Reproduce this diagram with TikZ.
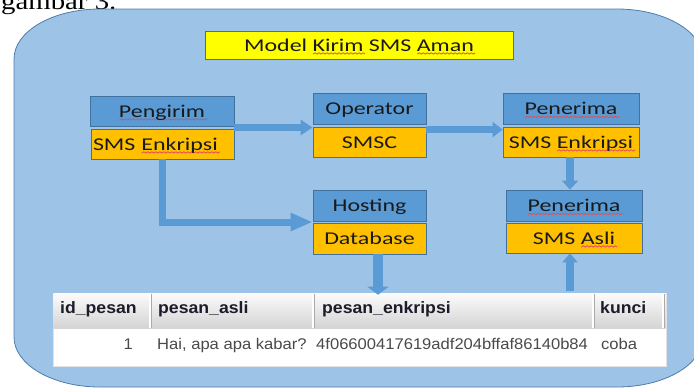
\documentclass[tikz,border=0pt]{standalone}
\usepackage{fontspec}
\usetikzlibrary{arrows.meta,calc}

\newfontfamily\boxfont[FakeStretch=1.33]{Carlito}
\newfontfamily\tabfont[FakeStretch=1.07]{Liberation Sans}
\newfontfamily\capfont[FakeStretch=1.2]{Liberation Serif}

\definecolor{bgfill}{HTML}{9DC3E6}
\definecolor{bgedge}{HTML}{4F7CAC}
\definecolor{boxblue}{HTML}{5B9BD5}
\definecolor{boxyellow}{HTML}{FFC000}
\definecolor{boxedge}{HTML}{41719C}
\definecolor{titleyellow}{HTML}{FFFF00}
\definecolor{flowblue}{HTML}{5B9BD5}
\definecolor{tabedge}{HTML}{E2E2E2}
\definecolor{hdtop}{HTML}{FBFBFB}
\definecolor{hdbot}{HTML}{D4D4D4}
\definecolor{hdtext}{HTML}{1C1C2A}
\definecolor{celltext}{HTML}{4A4A4A}
\definecolor{txt}{HTML}{1A1A1A}
\definecolor{squig}{HTML}{E2504A}

% red wavy underline for flagged words
\newdimen\wavex \newdimen\wavew \newcount\wavek
\newcommand\wavemark[1]{%
  \wavew=#1\relax\wavex=0pt\wavek=0
  \begin{pgfpicture}%
    \pgfsetlinewidth{0.8pt}\pgfsetstrokecolor{squig}%
    \pgfpathmoveto{\pgfpoint{0pt}{0pt}}%
    \loop\ifdim\wavex<\wavew
      \advance\wavex by 2pt \advance\wavek by 1
      \ifodd\wavek\pgfpathlineto{\pgfpoint{\wavex}{1.3pt}}\else\pgfpathlineto{\pgfpoint{\wavex}{0pt}}\fi
    \repeat
    \pgfusepath{stroke}%
  \end{pgfpicture}}
\newcommand\spellmark[1]{%
  \setbox0=\hbox{#1}%
  \rlap{\raisebox{-3.5pt}[0pt][0pt]{\wavemark{\wd0}}}\box0\relax}

\tikzset{
  upperbox/.style={draw=boxedge, fill=boxblue, line width=0.8pt, inner sep=0pt,
    minimum height=30pt, text height=12pt, text depth=0pt,
    font=\boxfont\fontsize{18}{20}\selectfont, text=txt},
  lowerbox/.style={upperbox, fill=boxyellow},
  flow/.style={draw=flowblue, line width=7pt, -{Triangle[length=12pt,width=15pt]}},
  hdcell/.style={anchor=base west, inner sep=0pt, text=hdtext,
    font=\tabfont\bfseries\fontsize{16.5}{18}\selectfont},
  datacell/.style={anchor=base west, inner sep=0pt, text=celltext,
    font=\tabfont\fontsize{15.5}{18}\selectfont},
}

\begin{document}
\begin{tikzpicture}[x=1pt,y=-1pt]
\clip (0,0) rectangle (694,389);

% caption line above the figure
\node[anchor=base west, inner sep=0pt, font=\capfont\fontsize{24}{26}\selectfont] (cap) at (1,9) {gambar 3.};

% rounded background panel
\draw[fill=bgfill, draw=bgedge, line width=0.8pt]
  (100,9) -- (617,9) arc[start angle=-90, end angle=0, x radius=86, y radius=50]
  -- (703,337) arc[start angle=0, end angle=90, x radius=86, y radius=50]
  -- (100,387) arc[start angle=90, end angle=180, x radius=86, y radius=50]
  -- (14,59) arc[start angle=180, end angle=270, x radius=86, y radius=50] -- cycle;

% title
\node[upperbox, fill=titleyellow, minimum width=308pt, minimum height=28pt] (title) at (359,45)
  {Model \spellmark{Kirim} SMS \spellmark{Aman}};

% sender
\node[upperbox, minimum width=144pt] (peng) at (162,111) {\spellmark{Pengirim}};
\node[lowerbox, text width=139pt, align=left, inner xsep=2pt] (pengsms) at (162.5,144)
  {SMS \spellmark{Enkripsi}};

% operator
\node[upperbox, minimum width=113pt, minimum height=31pt] (op) at (369.5,108.5) {Operator};
\node[lowerbox, minimum width=113pt] (smsc) at (369.5,142) {SMSC};

% hosting
\node[upperbox, minimum width=113pt, minimum height=31pt] (host) at (369.5,205.5) {Hosting};
\node[lowerbox, minimum width=113pt, minimum height=31pt] (db) at (369.5,238.5) {Database};

% receiver, encrypted
\node[upperbox, minimum width=136pt, minimum height=31pt] (pen1) at (571,108.5) {\spellmark{Penerima}};
\node[lowerbox, minimum width=136pt] (pensms) at (571,142) {SMS \spellmark{Enkripsi}};

% receiver, plain
\node[upperbox, minimum width=136pt, minimum height=31pt] (pen2) at (574,205.5) {\spellmark{Penerima}};
\node[lowerbox, minimum width=136pt] (asli) at (574,238) {SMS \spellmark{Asli}};

% database table
\node[draw=tabedge, fill=white, line width=0.6pt, minimum width=613pt, minimum height=73pt, inner sep=0pt]
  (tbl) at (359.5,329.5) {};
\shade[top color=hdtop, bottom color=hdbot] (53.5,293.5) rectangle (665.5,328);
\foreach \cx in {150,313,593,663}{
  \draw[white, line width=1.6pt] (\cx,293.5) -- (\cx,328);
  \draw[hdbot!80!black, line width=0.5pt] (\cx+1.3,293.5) -- (\cx+1.3,328);
}
\node[hdcell] at (60,313) {id\_pesan};
\node[hdcell] at (158,313) {pesan\_asli};
\node[hdcell] at (322,313) {pesan\_enkripsi};
\node[hdcell] at (600,313) {kunci};
\node[datacell, anchor=base east] at (133,349) {1};
\node[datacell] at (157,349) {Hai, apa apa kabar?};
\node[datacell] at (316,349) {4f06600417619adf204bffaf86140b84};
\node[datacell] at (601,349) {coba};

% connectors
\coordinate (m1) at ($(peng.south east)!.5!(pengsms.north east)$);
\draw[flow] (m1) -- (m1 -| op.west);

\coordinate (m2) at ([yshift=-3pt]smsc.north east);
\draw[flow, -{Triangle[length=10pt,width=15pt]}] (m2) -- (m2 -| pensms.west);

\coordinate (m3) at ([xshift=-1pt]pensms.south);
\draw[flow, line width=8pt, -{Triangle[length=9pt,width=16pt]}] (m3) -- (m3 |- pen2.north);

\coordinate (m4) at ($(host.south west)!.5!(db.north west)$);
\draw[flow, line join=miter, -{Triangle[length=22pt,width=17pt]}] (pengsms.south) |- (m4);

\coordinate (d5) at ([xshift=8.5pt]db.south);
\coordinate (t5) at (d5 |- tbl.north);
\draw[flow, line width=9.5pt, -{Triangle[length=8pt,width=21pt]}] (d5) -- ([yshift=-2pt]t5);

\coordinate (a6) at ([xshift=-4pt]asli.south);
\coordinate (b6) at (a6 |- tbl.north);
\draw[flow, line width=8pt, -{Triangle[length=9pt,width=15pt]}] ([yshift=2pt]b6) -- (a6);
\end{tikzpicture}
\end{document}
